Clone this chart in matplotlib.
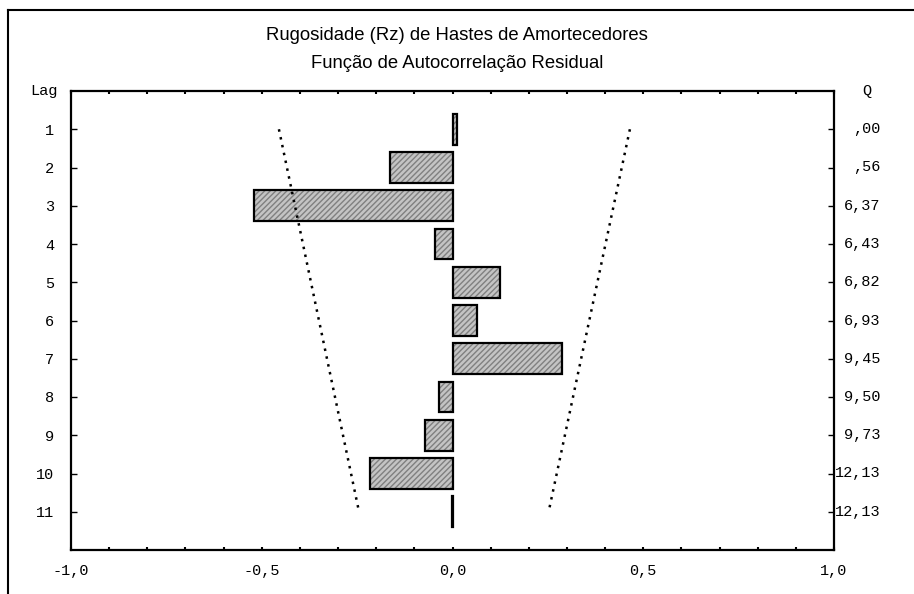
import matplotlib.pyplot as plt
from matplotlib.lines import Line2D

# Residual autocorrelation by lag, with the Box-Ljung Q column
lags = [1, 2, 3, 4, 5, 6, 7, 8, 9, 10, 11]
acf = [0.012, -0.163, -0.52, -0.047, 0.125, 0.063, 0.287, -0.035, -0.072, -0.216, -0.002]
q_labels = [",00", ",56", "6,37", "6,43", "6,82", "6,93", "9,45", "9,50", "9,73", "12,13", "12,13"]
band_lags = [1, 11]
band_upper = [0.465, 0.252]
band_lower = [-0.455, -0.245]
x_ticks = [-1.0, -0.5, 0.0, 0.5, 1.0]
x_labels = ["-1,0", "-0,5", "0,0", "0,5", "1,0"]

mono = "Liberation Mono"
fig = plt.figure(figsize=(9.14, 5.94), dpi=100)
ax = fig.add_axes([71 / 914, 1 - 550 / 594, (834 - 71) / 914, (550 - 91) / 594])

# hatched gray fill, then the black outline on top
ax.barh(lags, acf, height=0.8, color="#c4c4c4", edgecolor="#808080",
        hatch="//////", linewidth=0)
ax.barh(lags, acf, height=0.8, fill=False, edgecolor="black", linewidth=1.6)

ax.plot(band_upper, band_lags, color="black", linestyle=(0, (1, 2.2)), linewidth=1.8)
ax.plot(band_lower, band_lags, color="black", linestyle=(0, (1, 2.2)), linewidth=1.8)

ax.set_xlim(-1, 1)
ax.set_ylim(12, 0)
ax.set_xticks([i / 10 for i in range(-10, 11)])
ax.set_xticklabels([""] * 21)
for v, lab in zip(x_ticks, x_labels):
    ax.text(v, 12.55, lab, ha="center", va="center", fontsize=11, family=mono)
ax.tick_params(axis="x", direction="in", length=2.5, width=1.5, top=True)
ax.set_yticks(lags)
ax.set_yticklabels([str(l) for l in lags], fontsize=11, family=mono)
ax.tick_params(axis="y", direction="in", length=4, width=1, right=True, pad=12)
for sp in ax.spines.values():
    sp.set_linewidth(1.6)

# Q column on the right
for l, q in zip(lags, q_labels):
    ax.text(1.061, l, q, ha="right", va="center", fontsize=11, family=mono,
            transform=ax.get_yaxis_transform())
ax.text(1.043, 0, "Q", ha="center", va="center", fontsize=11, family=mono,
        transform=ax.get_yaxis_transform())
ax.text(-0.017, 0, "Lag", ha="right", va="center", fontsize=11, family=mono,
        transform=ax.get_yaxis_transform())

fig.text(0.5, 1 - 36 / 594, "Rugosidade (Rz) de Hastes de Amortecedores",
         ha="center", va="center", fontsize=13.3, family="Liberation Sans")
fig.text(0.5, 1 - 63 / 594, "Função de Autocorrelação Residual",
         ha="center", va="center", fontsize=13.3, family="Liberation Sans")

# outer frame
fig.add_artist(Line2D([8 / 914, 8 / 914], [0, 1 - 10 / 594], color="black", linewidth=1.5))
fig.add_artist(Line2D([8 / 914, 1], [1 - 10 / 594, 1 - 10 / 594], color="black", linewidth=1.5))

fig.savefig("out.png", dpi=100)
